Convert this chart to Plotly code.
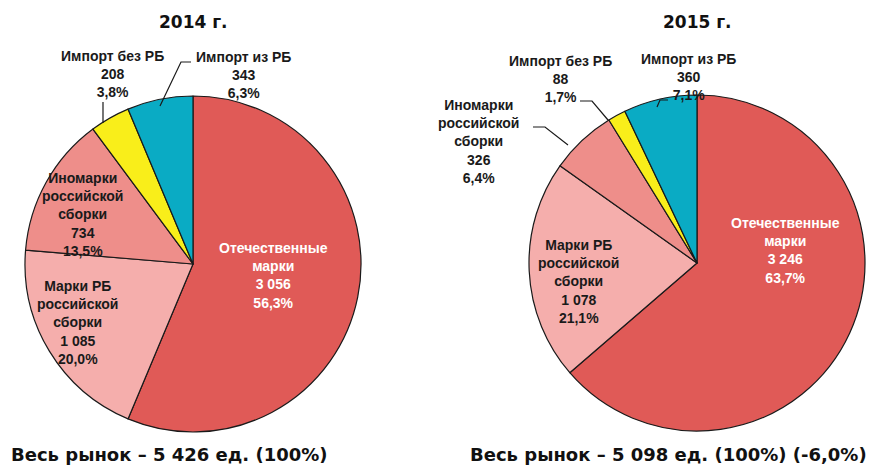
import plotly.graph_objects as go

# The page body has an 8px margin; the figure fills the rest of the window.
OFF = 8
W, H = 875 - OFF, 468 - OFF

categories = ["Отечественные марки", "Марки РБ российской сборки",
              "Иномарки российской сборки", "Импорт без РБ", "Импорт из РБ"]
label_names = ["Отечественные<br>марки", "Марки РБ<br>российской<br>сборки",
               "Иномарки<br>российской<br>сборки", "Импорт без РБ", "Импорт из РБ"]
values_2014 = [3056, 1085, 734, 208, 343]
values_2015 = [3246, 1078, 326, 88, 360]
pct_2014 = ["56,3%", "20,0%", "13,5%", "3,8%", "6,3%"]
pct_2015 = ["63,7%", "21,1%", "6,4%", "1,7%", "7,1%"]
colors = ["#E05A57", "#F5AEAC", "#EE8E8A", "#F9EE1A", "#0AABC4"]
years = ["2014 г.", "2015 г."]
totals = ["Весь рынок – 5 426 ед. (100%)", "Весь рынок – 5 098 ед. (100%) (-6,0%)"]

def px(x):
    return (x - OFF) / W

def py(y):
    return 1 - (y - OFF) / H

def fmt(v):
    return f"{v:,}".replace(",", " ")

fig = go.Figure()

R = 168
centers = [(193, 264), (697, 263)]
for vals, (cx, cy) in zip([values_2014, values_2015], centers):
    fig.add_trace(go.Pie(
        labels=categories, values=vals, sort=False, direction="clockwise",
        rotation=0, textinfo="none", hoverinfo="label+value+percent",
        marker=dict(colors=colors, line=dict(color="#1a1a1a", width=1.2)),
        domain=dict(x=[px(cx - R), px(cx + R)], y=[py(cy + R), py(cy - R)]),
        showlegend=False,
    ))

# label positions (pixel centres) for each slice, per year
pos_2014 = [(273, 275), (77, 322), (82, 215), (112, 74), (243, 75)]
pos_2015 = [(785, 251), (578, 281), (478, 141), (560, 79), (688, 77)]

lab_font = dict(family="Liberation Sans, Arial, sans-serif", size=14, color="#1a1a1a")
for vals, pcts, poss in [(values_2014, pct_2014, pos_2014), (values_2015, pct_2015, pos_2015)]:
    for i, (name, v, p, (x, y)) in enumerate(zip(label_names, vals, pcts, poss)):
        f = dict(lab_font)
        if i == 0:
            f["color"] = "white"
        fig.add_annotation(
            x=px(x), y=py(y), xref="paper", yref="paper",
            text=f"<b>{name}<br>{fmt(v)}<br>{p}</b>", showarrow=False,
            font=f, align="center", xanchor="center", yanchor="middle",
        )

for title, (cx, cy) in zip(years, centers):
    fig.add_annotation(x=px(cx), y=py(22), xref="paper", yref="paper",
                       text=f"<b>{title}</b>", showarrow=False,
                       font=dict(family="DejaVu Sans, sans-serif", size=17, color="#111"),
                       xanchor="center", yanchor="middle")

fig.add_annotation(x=px(9), y=py(454), xref="paper", yref="paper",
                   text=f"<b>{totals[0]}</b>", showarrow=False,
                   font=dict(family="DejaVu Sans, sans-serif", size=18, color="#111"),
                   xanchor="left", yanchor="middle")
fig.add_annotation(x=px(468), y=py(454), xref="paper", yref="paper",
                   text=f"<b>{totals[1]}</b>", showarrow=False,
                   font=dict(family="DejaVu Sans, sans-serif", size=18, color="#111"),
                   xanchor="left", yanchor="middle")

# leader lines
leaders = [
    [(103, 102), (103, 123)],
    [(160, 106), (181, 62), (191, 62)],
    [(580, 101), (592, 101), (608, 120)],
    [(533, 127), (545, 127), (568, 145)],
    [(657, 107), (660, 100), (668, 100)],
]
for pts in leaders:
    path = "M " + " L ".join(f"{px(x):.5f},{py(y):.5f}" for x, y in pts)
    fig.add_shape(type="path", path=path, xref="paper", yref="paper",
                  line=dict(color="#1a1a1a", width=1.2))

fig.update_layout(
    width=W, height=H, margin=dict(l=0, r=0, t=0, b=0),
    paper_bgcolor="white", plot_bgcolor="white",
)

fig.write_html("out.html")
